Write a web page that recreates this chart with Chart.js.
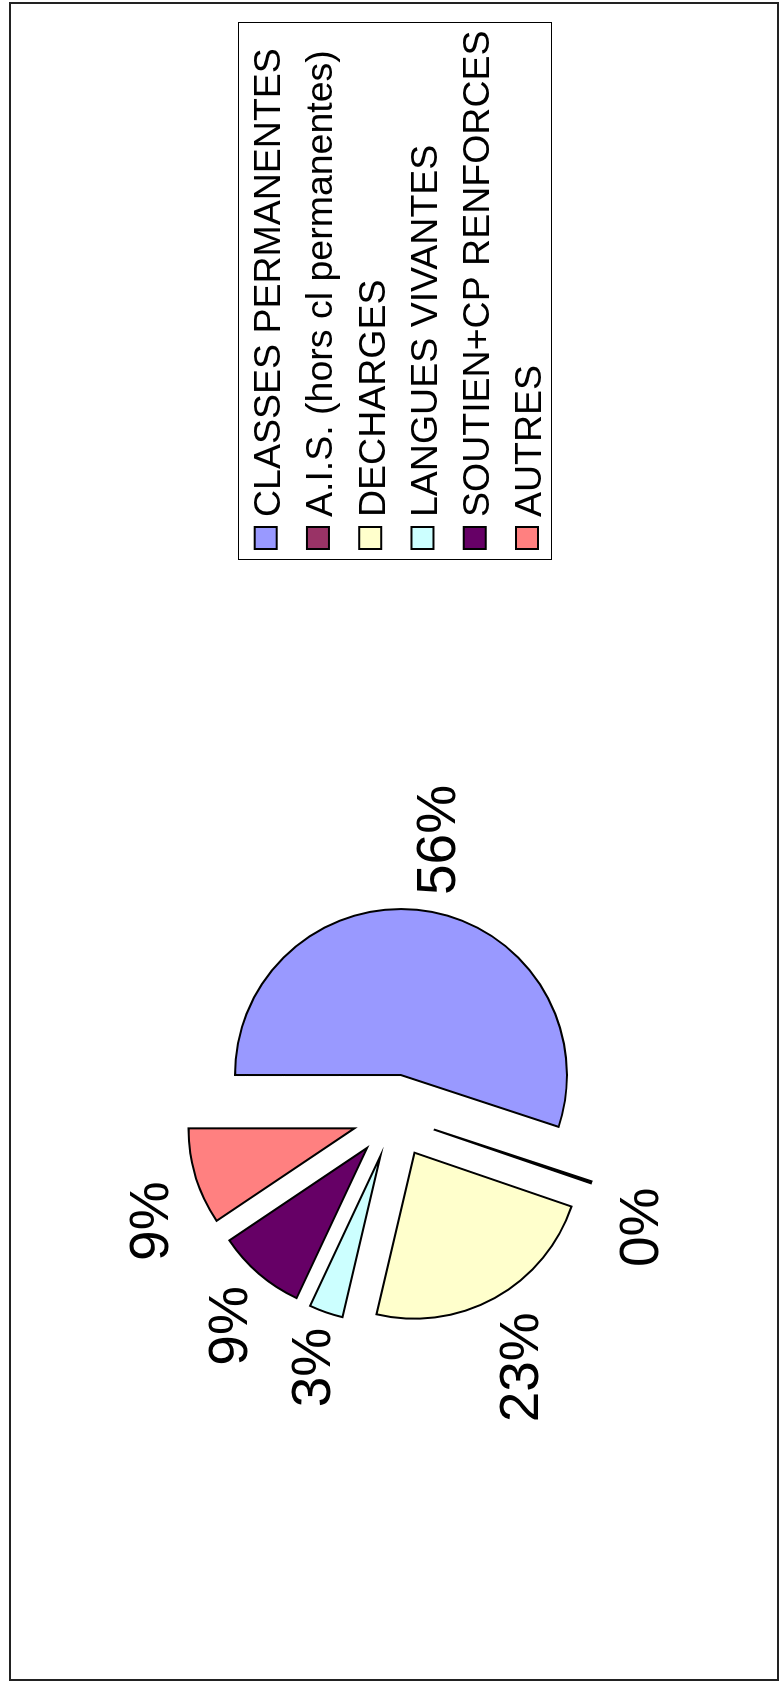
<!DOCTYPE html>
<html><head><meta charset="utf-8">
<script src="https://cdn.jsdelivr.net/npm/chart.js@4.4.1/dist/chart.umd.min.js"></script>
<style>
html,body{margin:0;padding:0;background:#fff;overflow:hidden;width:779px;height:1681px;}
#wrap{position:absolute;left:0;top:0;width:1681px;height:779px;transform-origin:0 0;transform:translate(0px,1681px) rotate(-90deg);}
canvas{display:block;}
</style></head><body>
<div id="wrap"><canvas id="c" width="1681" height="779"></canvas></div>
<script>
// ---- data ----
const categories = ['CLASSES PERMANENTES', 'A.I.S. (hors cl permanentes)', 'DECHARGES', 'LANGUES VIVANTES', 'SOUTIEN+CP RENFORCES', 'AUTRES'];
const shares = [55.0, 0.2, 23.4, 3.3, 8.6, 9.4];
const percentLabels = ['56%', '0%', '23%', '3%', '9%', '9%'];

// ---- styles ----
const sliceColors = ['#9999FF', '#993366', '#FFFFCC', '#CCFFFF', '#660066', '#FF8080'];
const FONT = '"Liberation Sans", Arial, Helvetica, sans-serif';
const EXPLODE = 41.7;      // px each slice is pulled out from the centre
const LABEL_R = 224;       // anchor radius of percentage labels
const LABEL_SIZE = 55;
const LEGEND_SIZE = 37.5;

// draws each arc element (geometry computed by Chart.js) as an exploded wedge
const explodedPie = {
  id: 'explodedPie',
  beforeDatasetDraw(chart, args) {
    const ctx = chart.ctx;
    const meta = args.meta;
    ctx.save();
    meta.data.forEach((arc) => {
      const p = arc.getProps(['x', 'y', 'startAngle', 'endAngle', 'outerRadius'], true);
      const o = arc.options;
      const mid = (p.startAngle + p.endAngle) / 2;
      const d = o.offset || 0;
      const cx = p.x + Math.cos(mid) * d;
      const cy = p.y + Math.sin(mid) * d;
      ctx.beginPath();
      ctx.moveTo(cx, cy);
      ctx.arc(cx, cy, p.outerRadius, p.startAngle, p.endAngle);
      ctx.closePath();
      ctx.fillStyle = o.backgroundColor;
      ctx.fill();
      ctx.lineWidth = o.borderWidth;
      ctx.strokeStyle = o.borderColor;
      ctx.lineJoin = 'miter';
      ctx.stroke();
    });
    ctx.restore();
    return false;
  }
};

const decor = {
  id: 'decor',
  beforeDraw(chart) {
    const ctx = chart.ctx;
    ctx.save();
    ctx.fillStyle = '#fff';
    ctx.fillRect(0, 0, chart.width, chart.height);
    ctx.restore();
  },
  afterDraw(chart) {
    const ctx = chart.ctx;
    ctx.save();
    // outer frame
    ctx.strokeStyle = '#222';
    ctx.lineWidth = 2;
    ctx.strokeRect(1, 10, 1677, 768);
    // legend frame
    ctx.lineWidth = 1;
    ctx.strokeStyle = '#000';
    ctx.strokeRect(1121.5, 238.5, 537, 313);
    // legend entries
    ctx.font = LEGEND_SIZE + 'px ' + FONT;
    ctx.textAlign = 'left';
    ctx.textBaseline = 'alphabetic';
    categories.forEach((name, i) => {
      const cy = 265.7 + i * 52.26;
      ctx.fillStyle = sliceColors[i];
      ctx.fillRect(1132, cy - 11, 22, 22);
      ctx.lineWidth = 2;
      ctx.strokeStyle = '#000';
      ctx.strokeRect(1132, cy - 11, 22, 22);
      ctx.fillStyle = '#000';
      ctx.fillText(name, 1164, cy + 1 + 0.716 * LEGEND_SIZE / 2);
    });
    // percentage labels
    const meta = chart.getDatasetMeta(0);
    ctx.font = LABEL_SIZE + 'px ' + FONT;
    ctx.textAlign = 'center';
    ctx.fillStyle = '#000';
    meta.data.forEach((arc, i) => {
      const p = arc.getProps(['x', 'y', 'startAngle', 'endAngle'], true);
      const mid = (p.startAngle + p.endAngle) / 2;
      const ux = Math.cos(mid), uy = Math.sin(mid);
      const w = ctx.measureText(percentLabels[i]).width;
      const h = 66;
      const cx = p.x + LABEL_R * ux + Math.sign(ux) * w / 2;
      const cy = p.y + LABEL_R * uy + uy * h / 2;
      ctx.fillText(percentLabels[i], cx, cy + 0.716 * LABEL_SIZE / 2);
    });
    ctx.restore();
  }
};

new Chart(document.getElementById('c'), {
  type: 'pie',
  data: {
    labels: categories,
    datasets: [{
      data: shares,
      backgroundColor: sliceColors,
      borderColor: '#000',
      borderWidth: 2,
      hoverOffset: 0,
      offset: EXPLODE
    }]
  },
  options: {
    responsive: false,
    animation: false,
    events: [],
    radius: 166,
    rotation: 0,
    layout: { padding: { left: 0, right: 551.4, top: 9.6, bottom: 0 } },
    plugins: { legend: { display: false }, tooltip: { enabled: false } }
  },
  plugins: [explodedPie, decor]
});
</script>
</body></html>
